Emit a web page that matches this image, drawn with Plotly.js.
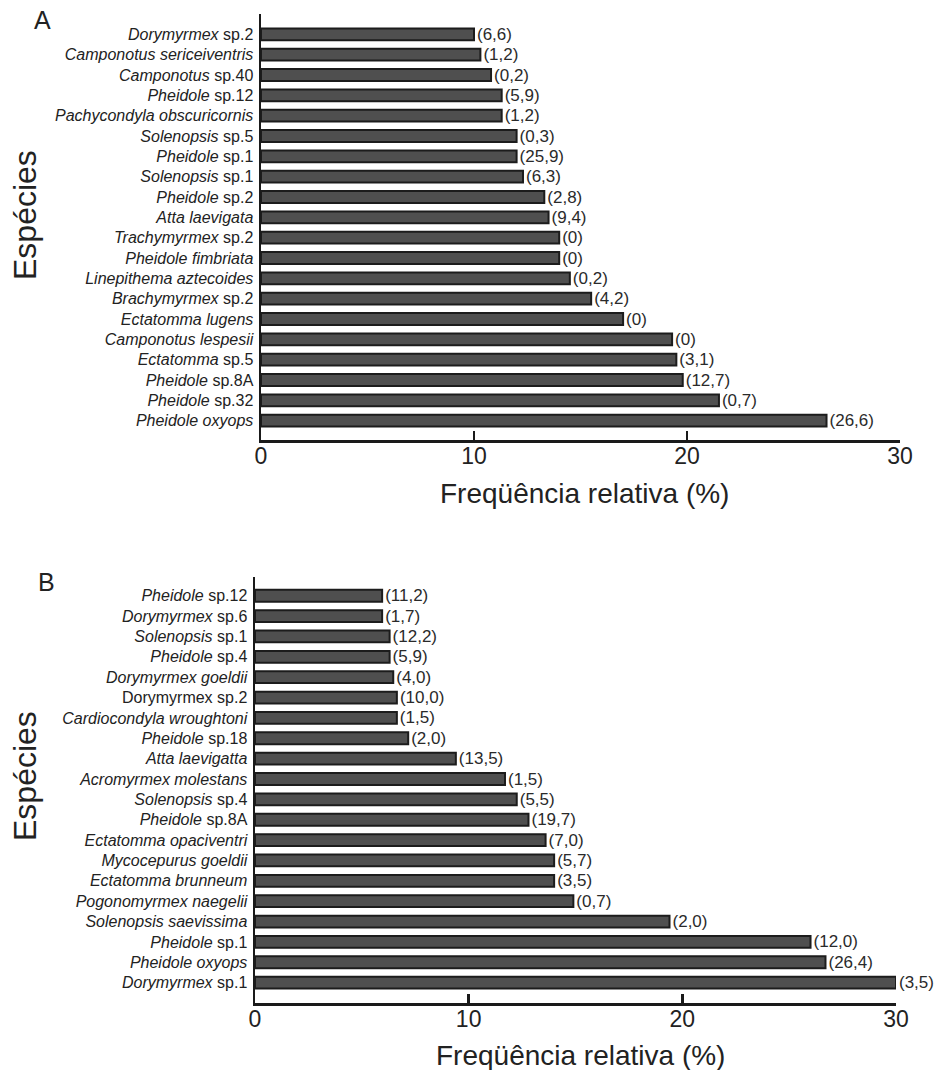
<!DOCTYPE html>
<html>
<head>
<meta charset="utf-8">
<script src="https://cdn.plot.ly/plotly-3.0.1.min.js"></script>
<style>html,body{margin:0;padding:0;background:#fff;}#chart{width:935px;height:1070px;}</style>
</head>
<body>
<div id="chart"></div>
<script>
// Panel A (top to bottom as drawn)
const speciesA = [
  "<i>Dorymyrmex</i> sp.2",
  "<i>Camponotus sericeiventris</i>",
  "<i>Camponotus</i> sp.40",
  "<i>Pheidole</i> sp.12",
  "<i>Pachycondyla obscuricornis</i>",
  "<i>Solenopsis</i> sp.5",
  "<i>Pheidole</i> sp.1",
  "<i>Solenopsis</i> sp.1",
  "<i>Pheidole</i> sp.2",
  "<i>Atta laevigata</i>",
  "<i>Trachymyrmex</i> sp.2",
  "<i>Pheidole fimbriata</i>",
  "<i>Linepithema aztecoides</i>",
  "<i>Brachymyrmex</i> sp.2",
  "<i>Ectatomma lugens</i>",
  "<i>Camponotus lespesii</i>",
  "<i>Ectatomma</i> sp.5",
  "<i>Pheidole</i> sp.8A",
  "<i>Pheidole</i> sp.32",
  "<i>Pheidole oxyops</i>"
];
const freqA = [10.0, 10.3, 10.8, 11.3, 11.3, 12.0, 12.0, 12.3, 13.3, 13.5,
               14.0, 14.0, 14.5, 15.5, 17.0, 19.3, 19.5, 19.8, 21.5, 26.55];
const labelsA = ["(6,6)", "(1,2)", "(0,2)", "(5,9)", "(1,2)", "(0,3)", "(25,9)", "(6,3)", "(2,8)", "(9,4)",
                 "(0)", "(0)", "(0,2)", "(4,2)", "(0)", "(0)", "(3,1)", "(12,7)", "(0,7)", "(26,6)"];

// Panel B (top to bottom as drawn)
const speciesB = [
  "<i>Pheidole</i> sp.12",
  "<i>Dorymyrmex</i> sp.6",
  "<i>Solenopsis</i> sp.1",
  "<i>Pheidole</i> sp.4",
  "<i>Dorymyrmex goeldii</i>",
  "Dorymyrmex sp.2",
  "<i>Cardiocondyla wroughtoni</i>",
  "<i>Pheidole</i> sp.18",
  "<i>Atta laevigatta</i>",
  "<i>Acromyrmex molestans</i>",
  "<i>Solenopsis</i> sp.4",
  "<i>Pheidole</i> sp.8A",
  "<i>Ectatomma opaciventri</i>",
  "<i>Mycocepurus goeldii</i>",
  "<i>Ectatomma brunneum</i>",
  "<i>Pogonomyrmex naegelii</i>",
  "<i>Solenopsis saevissima</i>",
  "<i>Pheidole</i> sp.1",
  "<i>Pheidole oxyops</i>",
  "<i>Dorymyrmex</i> sp.1"
];
const freqB = [5.95, 5.95, 6.3, 6.3, 6.47, 6.64, 6.64, 7.17, 9.4, 11.7,
               12.25, 12.8, 13.6, 14.0, 14.0, 14.9, 19.4, 26.0, 26.7, 30.0];
const labelsB = ["(11,2)", "(1,7)", "(12,2)", "(5,9)", "(4,0)", "(10,0)", "(1,5)", "(2,0)", "(13,5)", "(1,5)",
                 "(5,5)", "(19,7)", "(7,0)", "(5,7)", "(3,5)", "(0,7)", "(2,0)", "(12,0)", "(26,4)", "(3,5)"];

const xTicks = [0, 10, 20, 30];
const xTitle = "Freqüência relativa (%)";
const yTitle = "Espécies";

const W = 935, H = 1070;
const px = v => v / W;
const py = v => 1 - v / H;
const FONT = "Liberation Sans, Arial, sans-serif";
const INK = "#1a1a1a";

function barTrace(x, y, text, xa, ya) {
  return {
    type: "bar", orientation: "h",
    x: x, y: y, text: text,
    textposition: "outside", cliponaxis: false, constraintext: "none",
    textfont: {family: FONT, size: 17, color: "#2a2a2a"},
    marker: {color: "#4f4f4f", line: {color: "#1c1c1c", width: 2}},
    width: 0.58,
    xaxis: xa, yaxis: ya,
    hoverinfo: "x+y", showlegend: false
  };
}

const xCommon = {
  range: [0, 30], tickmode: "array", tickvals: xTicks,
  ticks: "inside", ticklen: 9, tickwidth: 2.5, tickcolor: INK,
  showline: true, linecolor: INK, linewidth: 2.5,
  showgrid: false, zeroline: false,
  ticklabelstandoff: -6,
  tickfont: {family: FONT, size: 23, color: "#222"},
  fixedrange: true
};
const yCommon = {
  type: "category",
  showline: true, linecolor: INK, linewidth: 2.5,
  showgrid: false, zeroline: false, ticks: "",
  ticklabelstandoff: 2,
  tickfont: {family: FONT, size: 16, color: "#222"},
  fixedrange: true
};

const layout = {
  width: W, height: H,
  margin: {l: 0, r: 0, t: 0, b: 0},
  paper_bgcolor: "#fff", plot_bgcolor: "#fff",
  bargap: 0.4,
  xaxis: Object.assign({}, xCommon, {domain: [px(261), px(900)], anchor: "y"}),
  yaxis: Object.assign({}, yCommon, {domain: [py(440), py(14)], anchor: "x",
          categoryorder: "array", categoryarray: speciesA, range: [19.95, -1.0]}),
  xaxis2: Object.assign({}, xCommon, {domain: [px(255), px(896)], anchor: "y2"}),
  yaxis2: Object.assign({}, yCommon, {domain: [py(1003), py(577)], anchor: "x2",
          categoryorder: "array", categoryarray: speciesB, range: [20.0, -0.92]}),
  annotations: [
    {text: "A", xref: "paper", yref: "paper", x: px(42), y: py(20), showarrow: false,
     font: {family: FONT, size: 25, color: "#222"}, xanchor: "center", yanchor: "middle"},
    {text: "B", xref: "paper", yref: "paper", x: px(46), y: py(582), showarrow: false,
     font: {family: FONT, size: 25, color: "#222"}, xanchor: "center", yanchor: "middle"},
    {text: xTitle, xref: "paper", yref: "paper", x: px(584), y: py(493), showarrow: false,
     font: {family: FONT, size: 28, color: "#222"}, xanchor: "center", yanchor: "middle"},
    {text: xTitle, xref: "paper", yref: "paper", x: px(580), y: py(1055), showarrow: false,
     font: {family: FONT, size: 28, color: "#222"}, xanchor: "center", yanchor: "middle"},
    {text: yTitle, xref: "paper", yref: "paper", x: px(25), y: py(215), showarrow: false, textangle: -90,
     font: {family: FONT, size: 32, color: "#222"}, xanchor: "center", yanchor: "middle"},
    {text: yTitle, xref: "paper", yref: "paper", x: px(25), y: py(776), showarrow: false, textangle: -90,
     font: {family: FONT, size: 32, color: "#222"}, xanchor: "center", yanchor: "middle"}
  ]
};

Plotly.newPlot("chart", [
  barTrace(freqA, speciesA, labelsA, "x", "y"),
  barTrace(freqB, speciesB, labelsB, "x2", "y2")
], layout, {displayModeBar: false, staticPlot: true});
</script>
</body>
</html>
